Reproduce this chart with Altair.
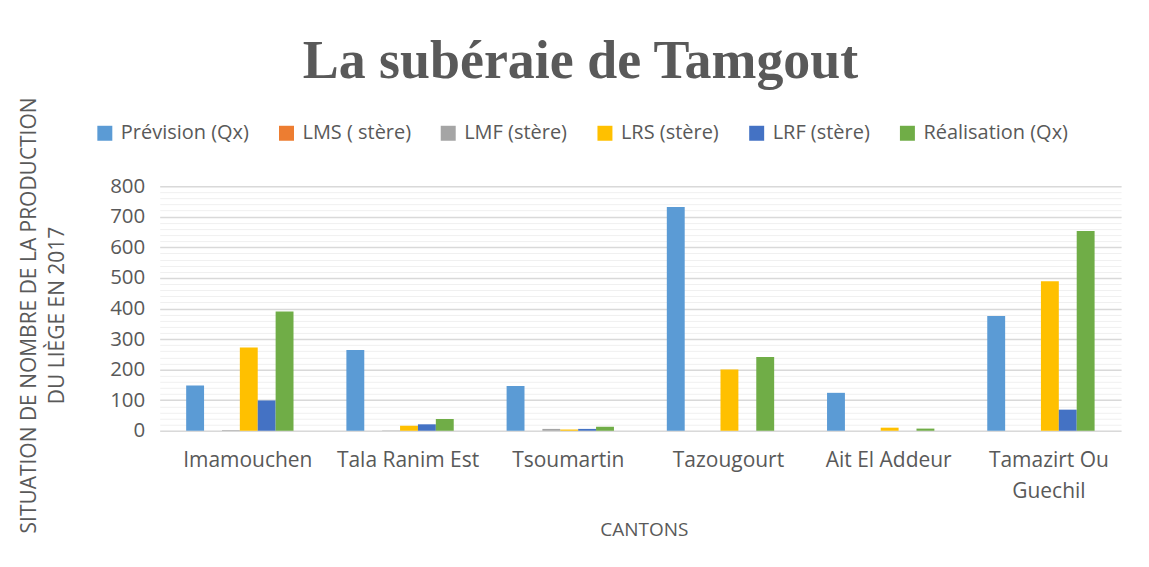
import altair as alt
import pandas as pd

cantons = ["Imamouchen", "Tala Ranim Est", "Tsoumartin", "Tazougourt",
           "Ait El Addeur", "Tamazirt Ou Guechil"]
series = ["Prévision (Qx)", "LMS ( stère)", "LMF (stère)", "LRS (stère)",
          "LRF (stère)", "Réalisation (Qx)"]
prevision = [148, 264, 146, 732, 124, 375]
lms = [0, 0, 0, 0, 0, 0]
lmf = [2, 1, 6, 0, 0, 0]
lrs = [272, 16, 4, 200, 10, 489]
lrf = [99, 21, 6, 0, 0, 69]
realisation = [390, 38, 13, 241, 7, 653]
colors = ["#5B9BD5", "#ED7D31", "#A5A5A5", "#FFC000", "#4472C4", "#70AD47"]
y_ticks_major = list(range(0, 801, 100))
y_ticks_minor = list(range(0, 801, 20))

rows = []
for s, vals in zip(series, [prevision, lms, lmf, lrs, lrf, realisation]):
    for c, v in zip(cantons, vals):
        rows.append({"canton": c, "serie": s, "valeur": v})
df = pd.DataFrame(rows)

FONT = "Open Sans"
TXT = "#595959"

xscale = alt.Scale(domain=cantons, paddingInner=0.33, paddingOuter=0.165)
yscale = alt.Scale(domain=[0, 800], nice=False)

base = alt.Chart(df)

minor = base.mark_bar(opacity=0).encode(
    x=alt.X("canton:N", scale=xscale, axis=None),
    xOffset=alt.XOffset("serie:N", scale=alt.Scale(domain=series)),
    y=alt.Y("valeur:Q", scale=yscale,
            axis=alt.Axis(values=y_ticks_minor, grid=True, gridColor="#F0F0F0",
                          gridWidth=1, labels=False, ticks=False, domain=False,
                          title=None, orient="left")),
)

main = base.mark_bar().encode(
    x=alt.X("canton:N", scale=xscale,
            axis=alt.Axis(title="CANTONS", labelAngle=0, ticks=False, domain=False,
                          labelFontSize=21, labelColor=TXT, labelFont=FONT,
                          labelPadding=19, labelLineHeight=31, labelOffset=8,
                          labelExpr="datum.label == 'Tamazirt Ou Guechil' ? ['Tamazirt Ou', 'Guechil'] : datum.label",
                          titleFont=FONT, titleFontSize=19, titleColor=TXT,
                          titleFontWeight="normal", titleBaseline="middle",
                          titleY=99, titleX=485)),
    xOffset=alt.XOffset("serie:N", scale=alt.Scale(domain=series)),
    y=alt.Y("valeur:Q", scale=yscale,
            axis=alt.Axis(values=y_ticks_major, grid=True, gridColor="#D9D9D9",
                          gridWidth=1.5, ticks=False, domain=False,
                          labelFontSize=20.5, labelColor=TXT, labelFont=FONT,
                          labelPadding=15,
                          title=["SITUATION DE NOMBRE DE LA PRODUCTION",
                                 "DU LIÈGE EN 2017"],
                          titleFont=FONT, titleFontSize=21, titleColor=TXT,
                          titleFontWeight="normal", titleLineHeight=28,
                          titleAngle=-90, titleX=-130, titleY=129,
                          titleAlign="center", titleBaseline="middle",
                          orient="left")),
    color=alt.Color("serie:N", scale=alt.Scale(domain=series, range=colors),
                    legend=alt.Legend(title=None, orient="none", direction="horizontal",
                                      legendX=-65, legendY=-63,
                                      symbolType="square", symbolSize=225,
                                      symbolStrokeWidth=0,
                                      labelFont=FONT, labelFontSize=20,
                                      labelColor=TXT, labelOffset=6,
                                      labelExpr="datum.label == 'LMF (stère)' ? datum.label + '    ' : datum.label",
                                      columnPadding=27, labelLimit=300)),
)

chart = alt.layer(minor, main).resolve_axis(x="independent", y="independent").properties(
    width=963, height=245,
    autosize=alt.AutoSizeParams(type="none"),
    padding={"left": 152, "top": 178, "right": 20, "bottom": 125},
    title=alt.Title("La subéraie de Tamgout", font="Liberation Serif",
                    fontSize=54, fontWeight="bold", color=TXT,
                    anchor="middle", frame="group", dx=-60, offset=8),
    background="white",
).configure_view(stroke=None)

chart.save("out.html", embed_options={"renderer": "svg", "actions": False})
